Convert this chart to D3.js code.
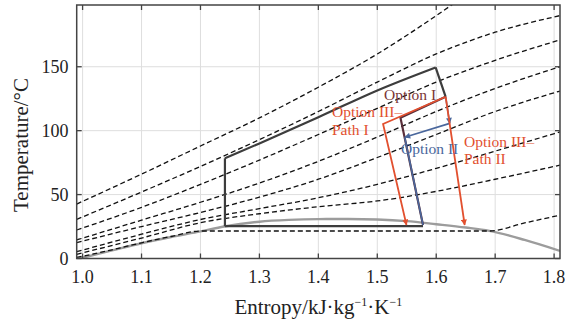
<!DOCTYPE html>
<html>
<head>
<meta charset="utf-8">
<script src="https://cdn.jsdelivr.net/npm/d3@7"></script>
<style>
  body { margin: 0; background: #fff; }
  text { font-family: "Liberation Serif", "Times New Roman", serif; }
</style>
</head>
<body>
<svg id="chart" width="565" height="327"></svg>
<script>
// Axis ticks
const xTicks = [1.0, 1.1, 1.2, 1.3, 1.4, 1.5, 1.6, 1.7, 1.8];
const yTicks = [0, 50, 100, 150];

// Saturation dome [entropy, temperature]
const dome = [[0.99, -0.5], [1.0, 0.6], [1.05, 6.3], [1.1, 11.9], [1.15, 16.8], [1.2, 21.2],
  [1.24, 25.0], [1.3, 28.8], [1.35, 30.2], [1.4, 30.8], [1.45, 30.9], [1.5, 30.5],
  [1.55, 29.2], [1.6, 26.8], [1.65, 24.2], [1.69, 21.6], [1.75, 14.5], [1.81, 5.9]];

// Isobars [entropy, temperature], highest pressure first
const isobarA = [[0.99, 42.6], [1.1, 66], [1.2, 88], [1.3, 110], [1.4, 134], [1.5, 160], [1.6, 190], [1.65, 206]];
const isobarB = [[0.99, 30.6], [1.1, 52], [1.2, 72], [1.3, 93], [1.4, 115], [1.5, 138], [1.6, 160], [1.7, 177], [1.81, 190]];
const isobarC = [[0.99, 22.3], [1.1, 40], [1.2, 58], [1.3, 77], [1.4, 97], [1.5, 117.5], [1.6, 138], [1.7, 155], [1.81, 171]];
const isobarD = [[0.99, 14.5], [1.1, 30], [1.2, 44], [1.3, 59], [1.4, 76], [1.5, 95], [1.6, 115], [1.7, 133], [1.81, 150]];
const isobarE = [[0.99, 12.4], [1.1, 25], [1.2, 36], [1.3, 48], [1.4, 62], [1.5, 79], [1.6, 97], [1.7, 115], [1.81, 131]];
const isobarF = [[0.99, 5.3], [1.1, 19], [1.2, 30.5], [1.3, 39], [1.4, 47.5], [1.5, 58], [1.6, 70.5], [1.7, 84], [1.81, 99]];
const isobarG = [[0.99, 3.3], [1.1, 16], [1.2, 28], [1.3, 35], [1.4, 40.5], [1.5, 45], [1.6, 52.5], [1.7, 62], [1.81, 73]];
const isobarH = [[0.99, 0.8], [1.05, 6.8], [1.1, 12.3], [1.15, 17.2], [1.2, 21.5], [1.69, 21.5], [1.75, 27.8], [1.81, 33.9]];
const isobars = [isobarA, isobarB, isobarC, isobarD, isobarE, isobarF, isobarG, isobarH];

// Base cycle: pump, heating, first expansion, low-pressure line
const basePump = [[1.2415, 25.3], [1.2415, 78.4]];
const baseHeating = [[1.2415, 78.4], [1.3, 90], [1.4, 110.5], [1.5, 131.5], [1.599, 149.5]];
const baseExpansion = [[1.599, 149.5], [1.616, 126.5]];
const baseLow = [[1.2415, 25.3], [1.5776, 25.3]];

// Option paths after the first expansion
const optionI = [[1.616, 126.5], [1.5393, 110.1], [1.5776, 26.2]];
const optionII = [[1.616, 126.5], [1.6229, 105.7], [1.5466, 94.8], [1.5776, 26.2]];
const optionIIIPath1 = [[1.616, 126.5], [1.5098, 105.2], [1.5495, 26.2]];
const optionIIIPath2 = [[1.616, 126.5], [1.6483, 26.2]];

const pL = 76.7, pR = 560, pT = 5, pB = 258.5;

const svg = d3.select("#chart");
const x = d3.scaleLinear().domain([0.99, 1.81]).range([pL, pR]);
const y = d3.scaleLinear().domain([0, 198.3]).range([pB, pT]);

const defs = svg.append("defs");
defs.append("clipPath").attr("id", "plotClip")
  .append("rect").attr("x", pL).attr("y", pT)
  .attr("width", pR - pL).attr("height", pB - pT);

function arrowMarker(id, color) {
  defs.append("marker").attr("id", id)
    .attr("viewBox", "0 0 10 10").attr("refX", 9).attr("refY", 5)
    .attr("markerWidth", 7).attr("markerHeight", 6)
    .attr("markerUnits", "userSpaceOnUse")
    .attr("orient", "auto")
    .append("path").attr("d", "M0,0 L10,5 L0,10 Z").attr("fill", color);
}
const cOrange = "#e2502f", cBlue = "#4a679c", cMaroon = "#5a2f3b", cDark = "#3d3d3d";
arrowMarker("arrOrange", cOrange);
arrowMarker("arrBlue", cBlue);

// Grid
const grid = svg.append("g");
grid.selectAll("line.vx").data(xTicks).enter().append("line")
  .attr("x1", d => x(d)).attr("x2", d => x(d)).attr("y1", pT).attr("y2", pB)
  .attr("stroke", "#dedede").attr("stroke-width", 1);
grid.selectAll("line.hy").data(yTicks.filter(d => d > 0)).enter().append("line")
  .attr("x1", pL).attr("x2", pR).attr("y1", d => y(d)).attr("y2", d => y(d))
  .attr("stroke", "#dedede").attr("stroke-width", 1);

const plot = svg.append("g").attr("clip-path", "url(#plotClip)");
const line = d3.line().x(d => x(d[0])).y(d => y(d[1])).curve(d3.curveMonotoneX);
const straight = d3.line().x(d => x(d[0])).y(d => y(d[1]));

// Dome
plot.append("path").datum(dome).attr("d", line)
  .attr("fill", "none").attr("stroke", "#9c9c9c").attr("stroke-width", 2.4);

// Isobars
plot.selectAll("path.iso").data(isobars).enter().append("path")
  .attr("d", line).attr("fill", "none")
  .attr("stroke", "#111").attr("stroke-width", 1.3).attr("stroke-dasharray", "5,3");

// Base cycle
[basePump, baseLow, baseExpansion].forEach(seg => {
  plot.append("path").datum(seg).attr("d", straight)
    .attr("fill", "none").attr("stroke", cDark).attr("stroke-width", 2.2);
});
plot.append("path").datum(baseHeating).attr("d", line)
  .attr("fill", "none").attr("stroke", cDark).attr("stroke-width", 2.2);

// Option I
plot.append("path").datum(optionI).attr("d", straight)
  .attr("fill", "none").attr("stroke", cMaroon).attr("stroke-width", 2.2);

// Option II (first two legs end in arrows)
for (let i = 0; i < optionII.length - 1; i++) {
  plot.append("path").datum([optionII[i], optionII[i + 1]]).attr("d", straight)
    .attr("fill", "none").attr("stroke", cBlue).attr("stroke-width", 1.6)
    .attr("marker-end", i < 2 ? "url(#arrBlue)" : null);
}

// Option III
plot.append("path").datum(optionIIIPath1).attr("d", straight)
  .attr("fill", "none").attr("stroke", cOrange).attr("stroke-width", 1.8)
  .attr("marker-end", "url(#arrOrange)");
plot.append("path").datum(optionIIIPath2).attr("d", straight)
  .attr("fill", "none").attr("stroke", cOrange).attr("stroke-width", 1.8)
  .attr("marker-end", "url(#arrOrange)");

// Frame
svg.append("rect").attr("x", pL).attr("y", pT)
  .attr("width", pR - pL).attr("height", pB - pT)
  .attr("fill", "none").attr("stroke", "#444").attr("stroke-width", 1.5);

// Inward ticks on all sides
const tk = svg.append("g").attr("stroke", "#444").attr("stroke-width", 1.3);
xTicks.forEach(d => {
  tk.append("line").attr("x1", x(d)).attr("x2", x(d)).attr("y1", pB).attr("y2", pB - 5);
  tk.append("line").attr("x1", x(d)).attr("x2", x(d)).attr("y1", pT).attr("y2", pT + 5);
});
yTicks.forEach(d => {
  tk.append("line").attr("x1", pL).attr("x2", pL + 5).attr("y1", y(d)).attr("y2", y(d));
  tk.append("line").attr("x1", pR).attr("x2", pR - 5).attr("y1", y(d)).attr("y2", y(d));
});

// Tick labels
svg.selectAll("text.xt").data(xTicks).enter().append("text")
  .attr("x", d => x(d)).attr("y", 282.5).attr("text-anchor", "middle")
  .attr("font-size", 18).attr("fill", "#222").text(d => d.toFixed(1));
svg.selectAll("text.yt").data(yTicks).enter().append("text")
  .attr("x", 68.5).attr("y", d => y(d) + 6).attr("text-anchor", "end")
  .attr("font-size", 18).attr("fill", "#222").text(d => d);

// Axis titles
const xt = svg.append("text").attr("x", (pL + pR) / 2).attr("y", 313.5)
  .attr("text-anchor", "middle").attr("font-size", 21).attr("fill", "#222");
xt.append("tspan").text("Entropy/kJ·kg");
xt.append("tspan").attr("font-size", 12).attr("dy", -8).text("−1");
xt.append("tspan").attr("dy", 8).text("·K");
xt.append("tspan").attr("font-size", 12).attr("dy", -8).text("−1");

svg.append("text").attr("transform", "translate(27.5,145) rotate(-90)")
  .attr("text-anchor", "middle").attr("font-size", 21).attr("fill", "#222")
  .text("Temperature/°C");

// Option labels
const lab = svg.append("g").attr("font-size", 15.5);
lab.append("text").attr("x", 384).attr("y", 100).attr("fill", "#7a3535").text("Option I");
lab.append("text").attr("x", 332).attr("y", 117).attr("fill", cOrange).text("Option III–");
lab.append("text").attr("x", 332).attr("y", 135).attr("fill", cOrange).text("Path I");
lab.append("text").attr("x", 401).attr("y", 154).attr("fill", cBlue).text("Option II");
lab.append("text").attr("x", 464).attr("y", 147).attr("fill", cOrange).text("Option III–");
lab.append("text").attr("x", 464).attr("y", 164).attr("fill", cOrange).text("Path II");
</script>
</body>
</html>
